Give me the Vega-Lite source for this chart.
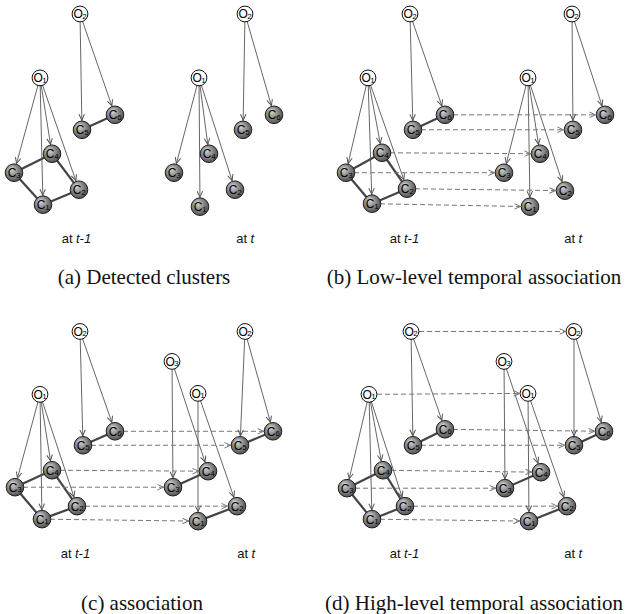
{
  "$schema": "https://vega.github.io/schema/vega-lite/v6.json",
  "width": 629,
  "height": 614,
  "padding": 0,
  "autosize": {"type": "fit", "contains": "padding"},
  "background": "white",
  "config": {"view": {"stroke": null}},
  "datasets": {
    "nodes": [
      {"k": "a1O1", "x": 40, "y": 78, "t": "o", "l": "O", "n": "1"},
      {"k": "a1O2", "x": 80, "y": 14, "t": "o", "l": "O", "n": "2"},
      {"k": "a1C1", "x": 43, "y": 205, "t": "c", "l": "C", "n": "1"},
      {"k": "a1C2", "x": 79, "y": 190, "t": "c", "l": "C", "n": "2"},
      {"k": "a1C3", "x": 14, "y": 173, "t": "c", "l": "C", "n": "3"},
      {"k": "a1C4", "x": 52, "y": 154, "t": "c", "l": "C", "n": "4"},
      {"k": "a1C5", "x": 82, "y": 130, "t": "c", "l": "C", "n": "5"},
      {"k": "a1C6", "x": 115, "y": 115, "t": "c", "l": "C", "n": "6"},
      {"k": "a2O1", "x": 199, "y": 78, "t": "o", "l": "O", "n": "1"},
      {"k": "a2O2", "x": 245, "y": 14, "t": "o", "l": "O", "n": "2"},
      {"k": "a2C1", "x": 200, "y": 207, "t": "c", "l": "C", "n": "1"},
      {"k": "a2C2", "x": 235, "y": 190, "t": "c", "l": "C", "n": "2"},
      {"k": "a2C3", "x": 174, "y": 173, "t": "c", "l": "C", "n": "3"},
      {"k": "a2C4", "x": 209, "y": 154, "t": "c", "l": "C", "n": "4"},
      {"k": "a2C5", "x": 243, "y": 130, "t": "c", "l": "C", "n": "5"},
      {"k": "a2C6", "x": 274, "y": 115, "t": "c", "l": "C", "n": "6"},
      {"k": "b1O1", "x": 368, "y": 78, "t": "o", "l": "O", "n": "1"},
      {"k": "b1O2", "x": 410, "y": 14, "t": "o", "l": "O", "n": "2"},
      {"k": "b1C1", "x": 372, "y": 204, "t": "c", "l": "C", "n": "1"},
      {"k": "b1C2", "x": 407, "y": 189, "t": "c", "l": "C", "n": "2"},
      {"k": "b1C3", "x": 346, "y": 173, "t": "c", "l": "C", "n": "3"},
      {"k": "b1C4", "x": 382, "y": 153, "t": "c", "l": "C", "n": "4"},
      {"k": "b1C5", "x": 413, "y": 130, "t": "c", "l": "C", "n": "5"},
      {"k": "b1C6", "x": 445, "y": 115, "t": "c", "l": "C", "n": "6"},
      {"k": "b2O1", "x": 528, "y": 78, "t": "o", "l": "O", "n": "1"},
      {"k": "b2O2", "x": 572, "y": 14, "t": "o", "l": "O", "n": "2"},
      {"k": "b2C1", "x": 530, "y": 207, "t": "c", "l": "C", "n": "1"},
      {"k": "b2C2", "x": 565, "y": 191, "t": "c", "l": "C", "n": "2"},
      {"k": "b2C3", "x": 504, "y": 173, "t": "c", "l": "C", "n": "3"},
      {"k": "b2C4", "x": 540, "y": 154, "t": "c", "l": "C", "n": "4"},
      {"k": "b2C5", "x": 573, "y": 130, "t": "c", "l": "C", "n": "5"},
      {"k": "b2C6", "x": 605, "y": 115, "t": "c", "l": "C", "n": "6"},
      {"k": "c1O1", "x": 40, "y": 395, "t": "o", "l": "O", "n": "1"},
      {"k": "c1O2", "x": 80, "y": 332, "t": "o", "l": "O", "n": "2"},
      {"k": "c1C1", "x": 42, "y": 520, "t": "c", "l": "C", "n": "1"},
      {"k": "c1C2", "x": 77, "y": 507, "t": "c", "l": "C", "n": "2"},
      {"k": "c1C3", "x": 15, "y": 488, "t": "c", "l": "C", "n": "3"},
      {"k": "c1C4", "x": 52, "y": 471, "t": "c", "l": "C", "n": "4"},
      {"k": "c1C5", "x": 83, "y": 446, "t": "c", "l": "C", "n": "5"},
      {"k": "c1C6", "x": 115, "y": 432, "t": "c", "l": "C", "n": "6"},
      {"k": "c2O1", "x": 198, "y": 394, "t": "o", "l": "O", "n": "1"},
      {"k": "c2O2", "x": 245, "y": 332, "t": "o", "l": "O", "n": "2"},
      {"k": "c2O3", "x": 172, "y": 362, "t": "o", "l": "O", "n": "3"},
      {"k": "c2C1", "x": 198, "y": 522, "t": "c", "l": "C", "n": "1"},
      {"k": "c2C2", "x": 237, "y": 507, "t": "c", "l": "C", "n": "2"},
      {"k": "c2C3", "x": 173, "y": 488, "t": "c", "l": "C", "n": "3"},
      {"k": "c2C4", "x": 208, "y": 472, "t": "c", "l": "C", "n": "4"},
      {"k": "c2C5", "x": 240, "y": 446, "t": "c", "l": "C", "n": "5"},
      {"k": "c2C6", "x": 273, "y": 432, "t": "c", "l": "C", "n": "6"},
      {"k": "d1O1", "x": 369, "y": 395, "t": "o", "l": "O", "n": "1"},
      {"k": "d1O2", "x": 411, "y": 332, "t": "o", "l": "O", "n": "2"},
      {"k": "d1C1", "x": 372, "y": 520, "t": "c", "l": "C", "n": "1"},
      {"k": "d1C2", "x": 405, "y": 507, "t": "c", "l": "C", "n": "2"},
      {"k": "d1C3", "x": 347, "y": 489, "t": "c", "l": "C", "n": "3"},
      {"k": "d1C4", "x": 383, "y": 471, "t": "c", "l": "C", "n": "4"},
      {"k": "d1C5", "x": 413, "y": 446, "t": "c", "l": "C", "n": "5"},
      {"k": "d1C6", "x": 445, "y": 430, "t": "c", "l": "C", "n": "6"},
      {"k": "d2O1", "x": 528, "y": 394, "t": "o", "l": "O", "n": "1"},
      {"k": "d2O2", "x": 574, "y": 332, "t": "o", "l": "O", "n": "2"},
      {"k": "d2O3", "x": 504, "y": 362, "t": "o", "l": "O", "n": "3"},
      {"k": "d2C1", "x": 529, "y": 522, "t": "c", "l": "C", "n": "1"},
      {"k": "d2C2", "x": 567, "y": 507, "t": "c", "l": "C", "n": "2"},
      {"k": "d2C3", "x": 505, "y": 489, "t": "c", "l": "C", "n": "3"},
      {"k": "d2C4", "x": 541, "y": 473, "t": "c", "l": "C", "n": "4"},
      {"k": "d2C5", "x": 574, "y": 446, "t": "c", "l": "C", "n": "5"},
      {"k": "d2C6", "x": 604, "y": 432, "t": "c", "l": "C", "n": "6"}
    ],
    "edges": [
      {"s": "a1O1", "t": "a1C1", "e": "arrow"}, {"s": "a1O1", "t": "a1C2", "e": "arrow"}, {"s": "a1O1", "t": "a1C3", "e": "arrow"}, {"s": "a1O1", "t": "a1C4", "e": "arrow"}, {"s": "a1O2", "t": "a1C5", "e": "arrow"}, {"s": "a1O2", "t": "a1C6", "e": "arrow"},
      {"s": "a2O1", "t": "a2C1", "e": "arrow"}, {"s": "a2O1", "t": "a2C2", "e": "arrow"}, {"s": "a2O1", "t": "a2C3", "e": "arrow"}, {"s": "a2O1", "t": "a2C4", "e": "arrow"}, {"s": "a2O2", "t": "a2C5", "e": "arrow"}, {"s": "a2O2", "t": "a2C6", "e": "arrow"},
      {"s": "b1O1", "t": "b1C1", "e": "arrow"}, {"s": "b1O1", "t": "b1C2", "e": "arrow"}, {"s": "b1O1", "t": "b1C3", "e": "arrow"}, {"s": "b1O1", "t": "b1C4", "e": "arrow"}, {"s": "b1O2", "t": "b1C5", "e": "arrow"}, {"s": "b1O2", "t": "b1C6", "e": "arrow"},
      {"s": "b2O1", "t": "b2C1", "e": "arrow"}, {"s": "b2O1", "t": "b2C2", "e": "arrow"}, {"s": "b2O1", "t": "b2C3", "e": "arrow"}, {"s": "b2O1", "t": "b2C4", "e": "arrow"}, {"s": "b2O2", "t": "b2C5", "e": "arrow"}, {"s": "b2O2", "t": "b2C6", "e": "arrow"},
      {"s": "c1O1", "t": "c1C1", "e": "arrow"}, {"s": "c1O1", "t": "c1C2", "e": "arrow"}, {"s": "c1O1", "t": "c1C3", "e": "arrow"}, {"s": "c1O1", "t": "c1C4", "e": "arrow"}, {"s": "c1O2", "t": "c1C5", "e": "arrow"}, {"s": "c1O2", "t": "c1C6", "e": "arrow"},
      {"s": "c2O3", "t": "c2C3", "e": "arrow"}, {"s": "c2O3", "t": "c2C4", "e": "arrow"}, {"s": "c2O1", "t": "c2C1", "e": "arrow"}, {"s": "c2O1", "t": "c2C2", "e": "arrow"}, {"s": "c2O2", "t": "c2C5", "e": "arrow"}, {"s": "c2O2", "t": "c2C6", "e": "arrow"},
      {"s": "d1O1", "t": "d1C1", "e": "arrow"}, {"s": "d1O1", "t": "d1C2", "e": "arrow"}, {"s": "d1O1", "t": "d1C3", "e": "arrow"}, {"s": "d1O1", "t": "d1C4", "e": "arrow"}, {"s": "d1O2", "t": "d1C5", "e": "arrow"}, {"s": "d1O2", "t": "d1C6", "e": "arrow"},
      {"s": "d2O3", "t": "d2C3", "e": "arrow"}, {"s": "d2O3", "t": "d2C4", "e": "arrow"}, {"s": "d2O1", "t": "d2C1", "e": "arrow"}, {"s": "d2O1", "t": "d2C2", "e": "arrow"}, {"s": "d2O2", "t": "d2C5", "e": "arrow"}, {"s": "d2O2", "t": "d2C6", "e": "arrow"},
      {"s": "b1C1", "t": "b2C1", "e": "dash"}, {"s": "b1C2", "t": "b2C2", "e": "dash"}, {"s": "b1C3", "t": "b2C3", "e": "dash"}, {"s": "b1C4", "t": "b2C4", "e": "dash"}, {"s": "b1C5", "t": "b2C5", "e": "dash"}, {"s": "b1C6", "t": "b2C6", "e": "dash"},
      {"s": "c1C1", "t": "c2C1", "e": "dash"}, {"s": "c1C2", "t": "c2C2", "e": "dash"}, {"s": "c1C3", "t": "c2C3", "e": "dash"}, {"s": "c1C4", "t": "c2C4", "e": "dash"}, {"s": "c1C5", "t": "c2C5", "e": "dash"}, {"s": "c1C6", "t": "c2C6", "e": "dash"},
      {"s": "d1C1", "t": "d2C1", "e": "dash"}, {"s": "d1C2", "t": "d2C2", "e": "dash"}, {"s": "d1C3", "t": "d2C3", "e": "dash"}, {"s": "d1C4", "t": "d2C4", "e": "dash"}, {"s": "d1C5", "t": "d2C5", "e": "dash"}, {"s": "d1C6", "t": "d2C6", "e": "dash"},
      {"s": "d1O1", "t": "d2O1", "e": "dash"}, {"s": "d1O2", "t": "d2O2", "e": "dash"},
      {"s": "a1C3", "t": "a1C4", "e": "link"}, {"s": "a1C4", "t": "a1C2", "e": "link"}, {"s": "a1C2", "t": "a1C1", "e": "link"}, {"s": "a1C1", "t": "a1C3", "e": "link"}, {"s": "a1C5", "t": "a1C6", "e": "link"},
      {"s": "b1C3", "t": "b1C4", "e": "link"}, {"s": "b1C4", "t": "b1C2", "e": "link"}, {"s": "b1C2", "t": "b1C1", "e": "link"}, {"s": "b1C1", "t": "b1C3", "e": "link"}, {"s": "b1C5", "t": "b1C6", "e": "link"},
      {"s": "c1C3", "t": "c1C4", "e": "link"}, {"s": "c1C4", "t": "c1C2", "e": "link"}, {"s": "c1C2", "t": "c1C1", "e": "link"}, {"s": "c1C1", "t": "c1C3", "e": "link"}, {"s": "c1C5", "t": "c1C6", "e": "link"},
      {"s": "d1C3", "t": "d1C4", "e": "link"}, {"s": "d1C4", "t": "d1C2", "e": "link"}, {"s": "d1C2", "t": "d1C1", "e": "link"}, {"s": "d1C1", "t": "d1C3", "e": "link"}, {"s": "d1C5", "t": "d1C6", "e": "link"},
      {"s": "c2C3", "t": "c2C4", "e": "link"}, {"s": "c2C1", "t": "c2C2", "e": "link"}, {"s": "c2C5", "t": "c2C6", "e": "link"},
      {"s": "d2C3", "t": "d2C4", "e": "link"}, {"s": "d2C1", "t": "d2C2", "e": "link"}, {"s": "d2C5", "t": "d2C6", "e": "link"}
    ],
    "timelabels": [
      {"x": 74, "y": 239, "w": "at", "i": "t-1"},
      {"x": 248.5, "y": 239, "w": "at", "i": "t"},
      {"x": 402, "y": 239, "w": "at", "i": "t-1"},
      {"x": 576.5, "y": 239, "w": "at", "i": "t"},
      {"x": 73, "y": 555, "w": "at", "i": "t-1"},
      {"x": 249.5, "y": 555, "w": "at", "i": "t"},
      {"x": 402, "y": 555, "w": "at", "i": "t-1"},
      {"x": 576.5, "y": 555, "w": "at", "i": "t"}
    ],
    "captions": [
      {"x": 144, "y": 284, "txt": "(a) Detected clusters"},
      {"x": 474, "y": 284, "txt": "(b) Low-level temporal association"},
      {"x": 142, "y": 611, "txt": "(c) association"},
      {"x": 474, "y": 611, "txt": "(d) High-level temporal association"}
    ]
  },
  "layer": [
    {
      "data": {"name": "edges"},
      "transform": [
        {"filter": "datum.e === 'link'"},
        {"lookup": "s", "from": {"data": {"name": "nodes"}, "key": "k", "fields": ["x", "y"]}, "as": ["sx", "sy"]},
        {"lookup": "t", "from": {"data": {"name": "nodes"}, "key": "k", "fields": ["x", "y"]}, "as": ["tx", "ty"]}
      ],
      "mark": {"type": "rule", "color": "#444444", "strokeWidth": 2.2},
      "encoding": {
        "x": {"field": "sx", "type": "quantitative", "scale": {"domain": [0, 629], "nice": false, "zero": false}, "axis": null},
        "y": {"field": "sy", "type": "quantitative", "scale": {"domain": [0, 614], "nice": false, "zero": false, "reverse": true}, "axis": null},
        "x2": {"field": "tx"},
        "y2": {"field": "ty"}
      }
    },
    {
      "data": {"name": "edges"},
      "transform": [
        {"filter": "datum.e === 'arrow'"},
        {"lookup": "s", "from": {"data": {"name": "nodes"}, "key": "k", "fields": ["x", "y"]}, "as": ["sx", "sy"]},
        {"lookup": "t", "from": {"data": {"name": "nodes"}, "key": "k", "fields": ["x", "y"]}, "as": ["tx", "ty"]}
      ],
      "mark": {"type": "rule", "color": "#555555", "strokeWidth": 0.9},
      "encoding": {
        "x": {"field": "sx", "type": "quantitative", "scale": {"domain": [0, 629], "nice": false, "zero": false}, "axis": null},
        "y": {"field": "sy", "type": "quantitative", "scale": {"domain": [0, 614], "nice": false, "zero": false, "reverse": true}, "axis": null},
        "x2": {"field": "tx"},
        "y2": {"field": "ty"}
      }
    },
    {
      "data": {"name": "edges"},
      "transform": [
        {"filter": "datum.e === 'dash'"},
        {"lookup": "s", "from": {"data": {"name": "nodes"}, "key": "k", "fields": ["x", "y"]}, "as": ["sx", "sy"]},
        {"lookup": "t", "from": {"data": {"name": "nodes"}, "key": "k", "fields": ["x", "y"]}, "as": ["tx", "ty"]}
      ],
      "mark": {"type": "rule", "color": "#777777", "strokeWidth": 1, "strokeDash": [5, 3]},
      "encoding": {
        "x": {"field": "sx", "type": "quantitative", "scale": {"domain": [0, 629], "nice": false, "zero": false}, "axis": null},
        "y": {"field": "sy", "type": "quantitative", "scale": {"domain": [0, 614], "nice": false, "zero": false, "reverse": true}, "axis": null},
        "x2": {"field": "tx"},
        "y2": {"field": "ty"}
      }
    },
    {
      "data": {"name": "nodes"},
      "transform": [{"filter": "datum.t === 'c'"}],
      "mark": {
        "type": "point",
        "shape": "circle",
        "size": 310,
        "filled": true,
        "opacity": 1,
        "fill": {
          "gradient": "radial",
          "x1": 0.35, "y1": 0.28, "r1": 0,
          "x2": 0.45, "y2": 0.45, "r2": 0.62,
          "stops": [
            {"offset": 0, "color": "#dcdcdc"},
            {"offset": 0.5, "color": "#8c8c8c"},
            {"offset": 1, "color": "#474747"}
          ]
        },
        "stroke": "#1e1e1e",
        "strokeWidth": 1
      },
      "encoding": {
        "x": {"field": "x", "type": "quantitative", "scale": {"domain": [0, 629], "nice": false, "zero": false}, "axis": null},
        "y": {"field": "y", "type": "quantitative", "scale": {"domain": [0, 614], "nice": false, "zero": false, "reverse": true}, "axis": null}
      }
    },
    {
      "data": {"name": "nodes"},
      "transform": [{"filter": "datum.t === 'o'"}],
      "mark": {"type": "point", "shape": "circle", "size": 250, "filled": true, "opacity": 1, "fill": "white", "stroke": "#111111", "strokeWidth": 1},
      "encoding": {
        "x": {"field": "x", "type": "quantitative", "scale": {"domain": [0, 629], "nice": false, "zero": false}, "axis": null},
        "y": {"field": "y", "type": "quantitative", "scale": {"domain": [0, 614], "nice": false, "zero": false, "reverse": true}, "axis": null}
      }
    },
    {
      "data": {"name": "nodes"},
      "mark": {"type": "text", "font": "Liberation Sans", "fontSize": 12, "align": "center", "baseline": "middle", "fill": "#000000", "dx": -1.8, "dy": 0.5},
      "encoding": {
        "x": {"field": "x", "type": "quantitative", "scale": {"domain": [0, 629], "nice": false, "zero": false}, "axis": null},
        "y": {"field": "y", "type": "quantitative", "scale": {"domain": [0, 614], "nice": false, "zero": false, "reverse": true}, "axis": null},
        "text": {"field": "l"}
      }
    },
    {
      "data": {"name": "nodes"},
      "mark": {"type": "text", "font": "Liberation Sans", "fontSize": 8, "align": "left", "baseline": "middle", "fill": "#000000", "dx": 2.3, "dy": 3},
      "encoding": {
        "x": {"field": "x", "type": "quantitative", "scale": {"domain": [0, 629], "nice": false, "zero": false}, "axis": null},
        "y": {"field": "y", "type": "quantitative", "scale": {"domain": [0, 614], "nice": false, "zero": false, "reverse": true}, "axis": null},
        "text": {"field": "n"}
      }
    },
    {
      "data": {"name": "edges"},
      "transform": [
        {"filter": "datum.e !== 'link'"},
        {"lookup": "s", "from": {"data": {"name": "nodes"}, "key": "k", "fields": ["x", "y"]}, "as": ["sx", "sy"]},
        {"lookup": "t", "from": {"data": {"name": "nodes"}, "key": "k", "fields": ["x", "y", "t"]}, "as": ["tx", "ty", "tt"]},
        {"calculate": "atan2(datum.ty - datum.sy, datum.tx - datum.sx) * 180 / PI", "as": "ang"}
      ],
      "mark": {"type": "point", "filled": false, "size": 100, "strokeWidth": 1, "opacity": 1},
      "encoding": {
        "x": {"field": "tx", "type": "quantitative", "scale": {"domain": [0, 629], "nice": false, "zero": false}, "axis": null},
        "y": {"field": "ty", "type": "quantitative", "scale": {"domain": [0, 614], "nice": false, "zero": false, "reverse": true}, "axis": null},
        "angle": {"field": "ang", "type": "quantitative", "scale": null},
        "shape": {"field": "tt", "type": "nominal", "scale": {"domain": ["c", "o"], "range": ["M-3.1,-0.55L-1.9,0L-3.1,0.55", "M-2.86,-0.55L-1.66,0L-2.86,0.55"]}, "legend": null},
        "color": {"field": "e", "type": "nominal", "scale": {"domain": ["arrow", "dash"], "range": ["#555555", "#777777"]}, "legend": null}
      }
    },
    {
      "data": {"name": "timelabels"},
      "mark": {"type": "text", "font": "Liberation Sans", "fontSize": 13, "align": "right", "baseline": "middle", "dx": -1.5, "color": "#111111"},
      "encoding": {
        "x": {"field": "x", "type": "quantitative", "scale": {"domain": [0, 629], "nice": false, "zero": false}, "axis": null},
        "y": {"field": "y", "type": "quantitative", "scale": {"domain": [0, 614], "nice": false, "zero": false, "reverse": true}, "axis": null},
        "text": {"field": "w"}
      }
    },
    {
      "data": {"name": "timelabels"},
      "mark": {"type": "text", "font": "Liberation Sans", "fontSize": 13, "fontStyle": "italic", "align": "left", "baseline": "middle", "dx": 2, "color": "#111111"},
      "encoding": {
        "x": {"field": "x", "type": "quantitative", "scale": {"domain": [0, 629], "nice": false, "zero": false}, "axis": null},
        "y": {"field": "y", "type": "quantitative", "scale": {"domain": [0, 614], "nice": false, "zero": false, "reverse": true}, "axis": null},
        "text": {"field": "i"}
      }
    },
    {
      "data": {"name": "captions"},
      "mark": {"type": "text", "font": "Liberation Serif", "fontSize": 21, "align": "center", "baseline": "alphabetic", "color": "#111111"},
      "encoding": {
        "x": {"field": "x", "type": "quantitative", "scale": {"domain": [0, 629], "nice": false, "zero": false}, "axis": null},
        "y": {"field": "y", "type": "quantitative", "scale": {"domain": [0, 614], "nice": false, "zero": false, "reverse": true}, "axis": null},
        "text": {"field": "txt"}
      }
    }
  ]
}
